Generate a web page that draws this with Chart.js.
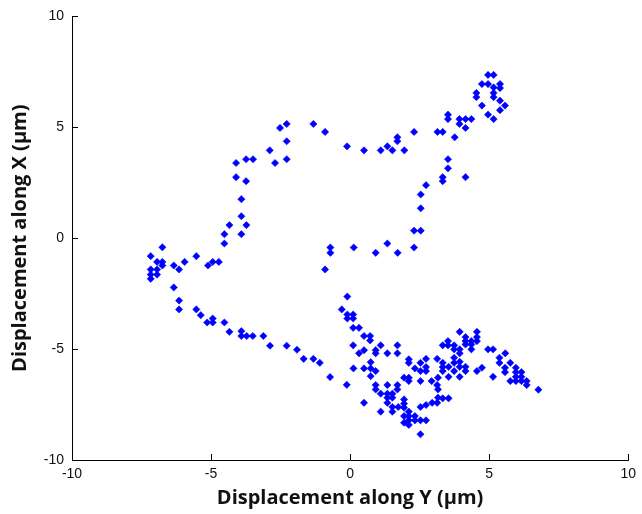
<!DOCTYPE html>
<html>
<head>
<meta charset="utf-8">
<script src="https://cdn.jsdelivr.net/npm/chart.js@4.4.1/dist/chart.umd.min.js"></script>
<style>
  html, body { margin: 0; padding: 0; background: #fff; }
  #wrap { width: 642px; height: 514px; position: relative; }
</style>
</head>
<body>
<div id="wrap"><canvas id="chart"></canvas></div>
<script>
'use strict';

var X_TITLE = 'Displacement along Y (\u03bcm)';
var Y_TITLE = 'Displacement along X (\u03bcm)';
var TICKS = [-10, -5, 0, 5, 10];
var MARKER_COLOR = '#0000ff';

// displacement along Y (horizontal axis), one per point
var dispY = [
	-7.17, -6.75, -6.94, -6.75, -6.75, -7.17, -6.94, -7.17, -6.94, -7.17,
	-6.34, -6.15, -5.95, -5.53, -5.11, -4.94, -4.72, -6.34, -6.15, -6.15,
	-5.53, -4.52, -4.52, -3.91, -4.34, -3.73, -3.91, -3.91, -4.10, -3.74,
	-4.10, -3.74, -3.49, -2.89, -2.70, -2.28, -2.28, -2.52, -2.28, -1.32,
	-0.90, -0.11, 0.50, 1.10, 1.34, 1.52, 1.70, 1.70, 1.95, 2.30,
	3.14, 3.33, 3.52, 3.52, 3.76, 3.93, 4.15, 4.36, 3.93, 4.15,
	3.52, 3.52, 3.33, 3.33, 4.15, 2.73, 2.54, 2.54, 2.30, 2.54,
	2.30, 1.71, 1.34, 0.92, 0.13, -0.71, -0.71, -0.90,
	4.96, 5.16, 4.74, 4.96, 5.16, 5.39, 5.39, 4.54, 4.54, 5.16,
	5.16, 5.39, 5.57, 4.74, 5.39, 4.96, 5.16,
	-5.37, -5.14, -4.94, -4.94, -4.52, -4.34, -3.91, -3.91, -3.72, -3.50,
	-3.12, -2.88, -2.28, -1.91, -1.67, -1.32, -1.09, -0.72, -0.12,
	-0.10, -0.30, -0.10, 0.11, -0.10, 0.11, 0.11, 0.32, 0.50, 0.72,
	0.72, 0.11, 1.10, 1.70, 0.50, 0.32, 0.92, 0.92, 1.34, 1.70,
	0.74, 2.11, 2.11, 2.53, 2.73, 3.13, 0.12, 0.50, 0.74, 0.92,
	0.74, 2.33, 2.53, 2.73, 2.73, 1.94, 2.11, 2.11, 2.53, 2.93,
	3.16, 0.92, 0.92, 1.34, 1.70, 1.70, 1.10, 1.34, 1.52, 1.34,
	1.52, 3.16, 3.16, 0.50, 1.34, 1.94, 1.94, 1.94, 1.52, 1.73,
	1.10, 1.52, 2.53, 2.73, 2.95, 2.11, 1.94, 2.11, 2.33, 2.11,
	2.33, 2.53, 2.73, 1.94, 2.11, 2.53,
	3.94, 4.15, 4.15, 4.15, 4.36, 4.36, 4.56, 4.56, 4.56, 3.52,
	3.33, 3.52, 3.74, 3.74, 3.94, 3.94, 4.36, 4.96, 5.14, 5.58,
	3.74, 3.74, 3.33, 3.33, 3.33, 3.94, 3.94, 3.54, 5.37, 5.37,
	5.76, 3.74, 4.15, 4.15, 4.74, 4.56, 5.57, 5.57, 5.96, 5.96,
	6.16, 3.54, 3.94, 5.14, 5.96, 6.16, 5.76, 6.16, 6.35, 6.35,
	5.96, 3.13, 3.33, 3.54, 3.13, 6.77
];

// displacement along X (vertical axis), same order
var dispX = [
	-0.81, -0.41, -1.07, -1.07, -1.23, -1.41, -1.41, -1.64, -1.64, -1.83,
	-1.23, -1.41, -1.07, -0.81, -1.23, -1.07, -1.07, -2.22, -2.81, -3.21,
	-3.21, -0.24, 0.18, 0.18, 0.59, 0.59, 0.99, 1.76, 2.75, 2.57,
	3.39, 3.56, 3.56, 3.96, 3.39, 3.56, 4.37, 4.97, 5.15, 5.15,
	4.79, 4.14, 3.96, 3.96, 4.14, 3.96, 4.55, 4.37, 3.96, 4.79,
	4.79, 4.79, 5.57, 5.37, 4.55, 5.37, 5.37, 5.37, 5.15, 4.97,
	3.56, 3.15, 2.75, 2.57, 2.75, 2.39, 1.97, 1.35, 0.34, 0.34,
	-0.42, -0.66, -0.24, -0.66, -0.42, -0.42, -0.66, -1.41,
	7.36, 7.36, 6.95, 6.95, 6.80, 6.95, 6.77, 6.55, 6.36, 6.55,
	6.36, 6.20, 5.98, 5.98, 5.77, 5.57, 5.37,
	-3.47, -3.80, -3.62, -3.80, -3.80, -4.22, -4.19, -4.41, -4.41, -4.41,
	-4.41, -4.85, -4.85, -5.03, -5.44, -5.44, -5.62, -6.26, -6.61,
	-2.63, -3.21, -3.44, -3.44, -3.62, -3.62, -4.04, -4.04, -4.41, -4.41,
	-4.61, -4.83, -4.83, -4.83, -5.05, -5.19, -5.05, -5.19, -5.19, -5.19,
	-5.59, -5.46, -5.62, -5.62, -5.44, -5.44, -5.87, -5.87, -5.87, -5.99,
	-6.22, -5.87, -5.99, -5.99, -5.81, -6.29, -6.29, -6.44, -6.44, -6.44,
	-6.29, -6.62, -6.82, -6.62, -6.62, -6.82, -7.01, -7.01, -7.01, -7.19,
	-7.19, -6.82, -7.19, -7.42, -7.42, -7.27, -7.46, -7.64, -7.61, -7.61,
	-7.82, -7.82, -7.61, -7.52, -7.42, -7.82, -8.02, -8.02, -8.02, -8.21,
	-8.21, -8.21, -8.21, -8.32, -8.42, -8.84,
	-4.22, -4.46, -4.64, -4.79, -4.64, -4.79, -4.22, -4.46, -4.64, -4.64,
	-4.83, -4.83, -4.83, -5.01, -5.01, -5.19, -5.01, -5.01, -5.01, -5.19,
	-5.39, -5.62, -5.62, -5.81, -5.99, -5.57, -5.80, -5.80, -5.39, -5.62,
	-5.62, -5.99, -5.80, -5.99, -5.84, -5.99, -5.84, -6.04, -5.84, -6.04,
	-6.04, -6.25, -6.25, -6.25, -6.25, -6.25, -6.44, -6.44, -6.44, -6.62,
	-6.44, -6.62, -7.22, -7.22, -7.42, -6.83
];

var points = dispY.map(function(v, i) {
	return { x: v, y: dispX[i] };
});

// short ticks pointing into the plot, like the original figure
var innerTicks = {
	id: 'innerTicks',
	afterDraw: function(chart) {
		var ctx = chart.ctx;
		var xs = chart.scales.x, ys = chart.scales.y;
		var len = 6;
		ctx.save();
		ctx.strokeStyle = '#000';
		ctx.lineWidth = 1;
		ctx.beginPath();
		TICKS.forEach(function(t) {
			var px = Math.round(xs.getPixelForValue(t)) + 0.5;
			ctx.moveTo(px, ys.bottom);
			ctx.lineTo(px, ys.bottom - len);
			var py = Math.round(ys.getPixelForValue(t)) + 0.5;
			ctx.moveTo(xs.left, py);
			ctx.lineTo(xs.left + len, py);
		});
		ctx.stroke();
		ctx.restore();
	}
};

var tickFont = { family: '"Liberation Sans", Arial, sans-serif', size: 14 };
var titleFont = { family: '"Open Sans", "Noto Sans", sans-serif', size: 20, weight: 'bold' };

new Chart(document.getElementById('chart'), {
	type: 'scatter',
	data: {
		datasets: [{
			data: points,
			pointStyle: 'rectRot',
			pointRadius: 3.6,
			pointBorderWidth: 0.6,
			backgroundColor: MARKER_COLOR,
			borderColor: MARKER_COLOR
		}]
	},
	options: {
		responsive: true,
		maintainAspectRatio: false,
		animation: false,
		devicePixelRatio: 1,
		layout: { padding: { top: 15, right: 12, left: 0, bottom: 0 } },
		plugins: { legend: { display: false }, tooltip: { enabled: false } },
		scales: {
			x: {
				type: 'linear',
				min: -10, max: 10,
				afterBuildTicks: function(s) { s.ticks = TICKS.map(function(v) { return { value: v }; }); },
				afterFit: function(s) { s.height = 54; },
				grid: { display: false, drawTicks: false },
				border: { display: true, color: '#000', width: 1 },
				ticks: { color: '#111', font: tickFont, padding: 6, maxRotation: 0 },
				title: { display: true, text: X_TITLE, color: '#111', font: titleFont, padding: { top: 0, bottom: 4 } }
			},
			y: {
				type: 'linear',
				min: -10, max: 10,
				afterBuildTicks: function(s) { s.ticks = TICKS.map(function(v) { return { value: v }; }); },
				afterFit: function(s) { s.width = 72; },
				grid: { display: false, drawTicks: false },
				border: { display: true, color: '#000', width: 1 },
				ticks: { color: '#111', font: tickFont, padding: 8 },
				title: { display: true, text: Y_TITLE, color: '#111', font: titleFont, padding: { top: 8, bottom: 0 } }
			}
		}
	},
	plugins: [innerTicks]
});
</script>
</body>
</html>
